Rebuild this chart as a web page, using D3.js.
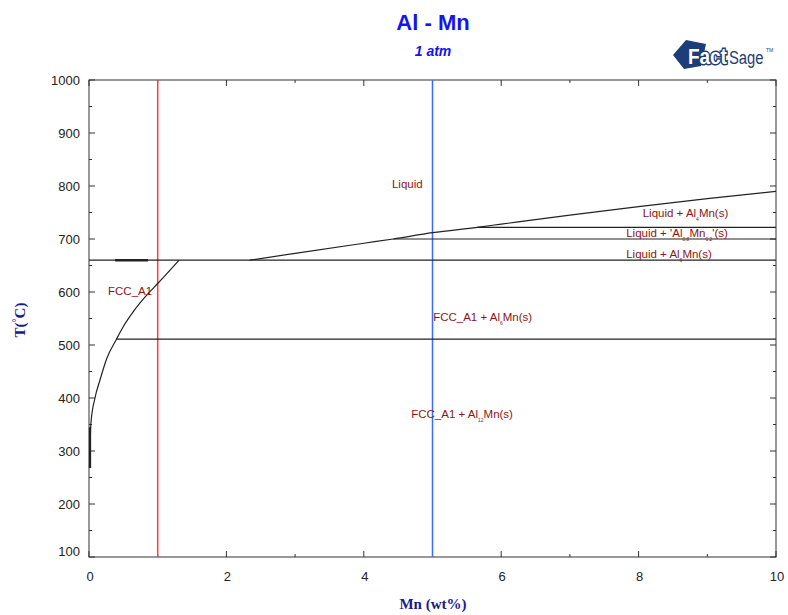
<!DOCTYPE html>
<html><head><meta charset="utf-8">
<script src="https://cdn.jsdelivr.net/npm/d3@7/dist/d3.min.js"></script>
<style>html,body{margin:0;padding:0;background:#fff;}</style>
</head><body>
<script>
// ---- data ----
const xTicks = [0, 2, 4, 6, 8, 10];
const yTicks = [100, 200, 300, 400, 500, 600, 700, 800, 900, 1000];
const liquidusX = [2.34, 3, 4, 4.43, 5, 5.65, 6, 7, 8, 9, 10];
const liquidusT = [660, 673, 692, 700, 712, 722, 728, 745, 761, 776, 790];
const solvusX = [0.015, 0.02, 0.03, 0.087, 0.16, 0.26, 0.40, 0.50, 0.645, 0.84, 1.0, 1.31];
const solvusT = [268, 330, 355, 400, 434, 475, 511, 535, 563, 594, 616, 660];
const isoT = [660, 511, 700, 722];
const isoFrom = [0, 0.40, 4.43, 5.65];
const isoTo = [10, 10, 10, 10];
const thickX = [0.38, 0.86];
const thickT = 660;
const markerX = [1, 5];
const markerColor = ["#ff3b3b", "#3a6cff"];
const labels = [
  {x: 4.41, t: 796, parts: [["Liquid", 0]]},
  {x: 8.06, t: 741, parts: [["Liquid + Al", 0], ["4", 1], ["Mn(s)", 0]]},
  {x: 7.82, t: 704, parts: [["Liquid + 'Al", 0], ["0.8", 1], ["Mn", 0], ["0.2", 1], ["'(s)", 0]]},
  {x: 7.82, t: 664, parts: [["Liquid + Al", 0], ["6", 1], ["Mn(s)", 0]]},
  {x: 0.277, t: 594, parts: [["FCC_A1", 0]]},
  {x: 5.01, t: 545, parts: [["FCC_A1 + Al", 0], ["6", 1], ["Mn(s)", 0]]},
  {x: 4.69, t: 362, parts: [["FCC_A1 + Al", 0], ["12", 1], ["Mn(s)", 0]]}
];

// ---- layout ----
const W = 788, H = 615;
const L = 89, R = 776, T = 80, B = 557;
const x = d3.scaleLinear().domain([0, 10]).range([L, R]);
const y = d3.scaleLinear().domain([100, 1000]).range([B, T]);

const svg = d3.select("body").append("svg").attr("width", W).attr("height", H)
  .style("font-family", "Arial, 'Liberation Sans', sans-serif");

// title
svg.append("text").attr("x", 433).attr("y", 30).attr("text-anchor", "middle")
  .attr("font-size", 22).attr("font-weight", "bold").attr("fill", "#1414f0").text("Al - Mn");
svg.append("text").attr("x", 433).attr("y", 56).attr("text-anchor", "middle")
  .attr("font-size", 14).attr("font-weight", "bold").attr("font-style", "italic").attr("fill", "#1414f0").text("1 atm");

// logo
const logo = svg.append("g");
logo.append("path").attr("d", "M673,55 L686,40 L706,44 L701,66 L684,69 Z").attr("fill", "#1d3d78");
logo.append("text").attr("transform", "translate(688,64) scale(0.86,1)").attr("font-size", 22).attr("font-weight", "bold")
  .attr("fill", "#fff").attr("stroke", "#1d3d78").attr("stroke-width", 3).attr("paint-order", "stroke")
  .text("Fact");
logo.append("text").attr("transform", "translate(729,64) scale(0.78,1)").attr("font-size", 19)
  .attr("fill", "#1d3d78").text("Sage");
logo.append("text").attr("x", 766).attr("y", 52).attr("font-size", 5).attr("fill", "#1d3d78").text("TM");

// frame
svg.append("rect").attr("x", L).attr("y", T).attr("width", R - L).attr("height", B - T)
  .attr("fill", "none").attr("stroke", "#333").attr("stroke-width", 1);

// ticks (inward)
const tg = svg.append("g").attr("stroke", "#333").attr("stroke-width", 1);
for (let v = 100; v <= 1000; v += 50) {
  const len = v % 100 === 0 ? 6 : 3;
  tg.append("line").attr("x1", L).attr("x2", L + len).attr("y1", y(v)).attr("y2", y(v));
  tg.append("line").attr("x1", R).attr("x2", R - len).attr("y1", y(v)).attr("y2", y(v));
}
for (let v = 0; v <= 10; v += 1) {
  const len = v % 2 === 0 ? 6 : 3;
  tg.append("line").attr("y1", B).attr("y2", B - len).attr("x1", x(v)).attr("x2", x(v));
  tg.append("line").attr("y1", T).attr("y2", T + len).attr("x1", x(v)).attr("x2", x(v));
}
// tick labels
svg.append("g").selectAll("text").data(yTicks).join("text")
  .attr("x", L - 9).attr("y", d => Math.min(y(d), B - 6) + 5).attr("text-anchor", "end")
  .attr("font-size", 13).attr("fill", "#222").text(d => d);
svg.append("g").selectAll("text").data(xTicks).join("text")
  .attr("x", d => x(d) + 1).attr("y", B + 24).attr("text-anchor", "middle")
  .attr("font-size", 13).attr("fill", "#222").text(d => d);

// axis titles
const yt = svg.append("text").attr("transform", `translate(25,320) rotate(-90)`).attr("text-anchor", "middle")
  .attr("font-family", "'Liberation Serif', 'DejaVu Serif', serif").attr("font-weight", "bold")
  .attr("font-size", 15).attr("fill", "#1a1a8c");
yt.append("tspan").text("T(");
yt.append("tspan").attr("font-size", 10).attr("dy", -5).text("°");
yt.append("tspan").attr("dy", 5).text("C)");
svg.append("text").attr("x", 433).attr("y", 609).attr("text-anchor", "middle")
  .attr("font-family", "'Liberation Serif', 'DejaVu Serif', serif").attr("font-weight", "bold")
  .attr("font-size", 15).attr("fill", "#1a1a8c").text("Mn (wt%)");

// marker lines
markerX.forEach((m, i) => {
  svg.append("line").attr("x1", x(m)).attr("x2", x(m)).attr("y1", T).attr("y2", B)
    .attr("stroke", markerColor[i]).attr("stroke-width", 1.5);
});

// phase boundaries
const line = d3.line().x(d => x(d[0])).y(d => y(d[1]));
const smooth = d3.line().x(d => x(d[0])).y(d => y(d[1])).curve(d3.curveMonotoneX);
const pg = svg.append("g").attr("fill", "none").attr("stroke", "#222").attr("stroke-width", 1.2);
pg.append("path").attr("d", smooth(liquidusX.map((v, i) => [v, liquidusT[i]])));
pg.append("path").attr("d", smooth(solvusX.map((v, i) => [v, solvusT[i]])));
isoT.forEach((t, i) => {
  pg.append("path").attr("d", line([[isoFrom[i], t], [isoTo[i], t]]));
});
pg.append("path").attr("d", line([[thickX[0], thickT], [thickX[1], thickT]])).attr("stroke-width", 2.5);
pg.append("path").attr("d", line([[0.015, 268], [0.015, 345]])).attr("stroke-width", 2.2);

// labels
labels.forEach(lb => {
  const t = svg.append("text").attr("x", x(lb.x)).attr("y", y(lb.t)).attr("font-size", 11.5).attr("fill", "#8e1414");
  lb.parts.forEach((p, i) => {
    const prevSub = i > 0 && lb.parts[i - 1][1];
    if (p[1]) t.append("tspan").attr("font-size", 5).attr("dy", 4).text(p[0]);
    else t.append("tspan").attr("dy", prevSub ? -4 : 0).text(p[0]);
  });
});
</script>
</body></html>
